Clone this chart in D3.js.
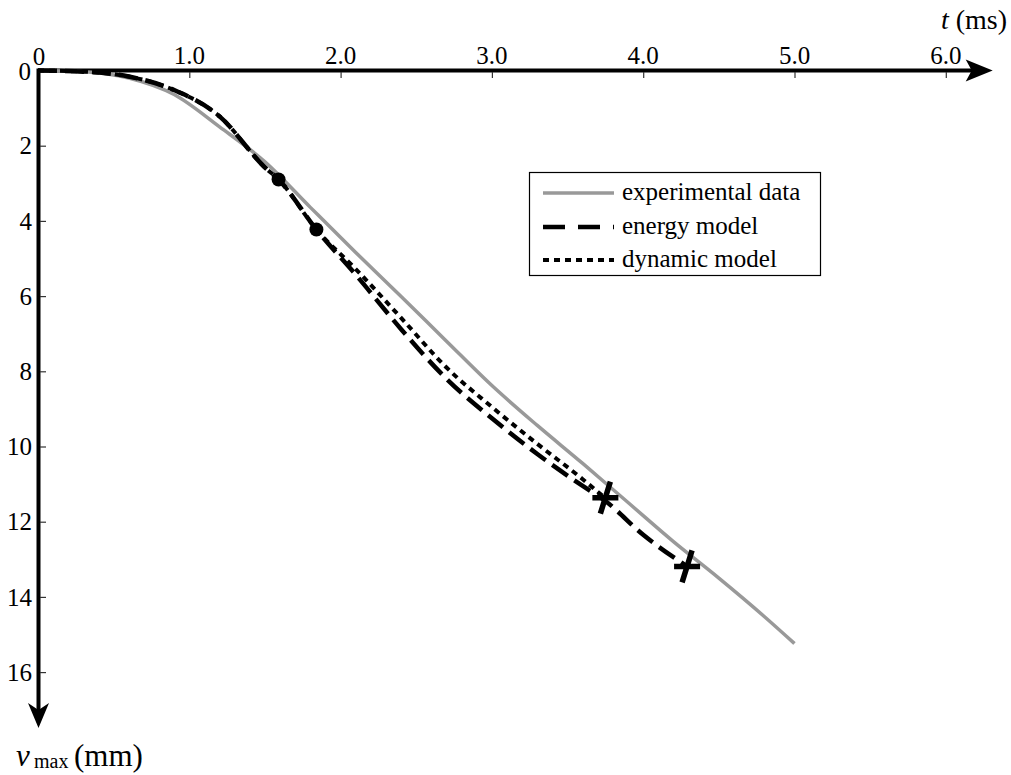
<!DOCTYPE html>
<html><head><meta charset="utf-8">
<script src="https://cdn.jsdelivr.net/npm/d3@7"></script>
<style>
html,body{margin:0;padding:0;background:#fff;}
</style></head>
<body>
<svg id="chart" width="1011" height="775" style="font-family:'Liberation Serif','Times New Roman',Tinos,'DejaVu Serif',serif;"></svg>
<script>
// ---- data ----
const xTickValues = [1, 2, 3, 4, 5, 6];
const xTickLabels = ["1.0", "2.0", "3.0", "4.0", "5.0", "6.0"];
const yTickValues = [2, 4, 6, 8, 10, 12, 14, 16];
const yTickLabels = ["2", "4", "6", "8", "10", "12", "14", "16"];

const expT = [0, 0.3, 0.6, 0.9, 1.2, 1.5, 1.8, 2.1, 2.4, 2.7, 3.0, 3.3, 3.6, 3.9, 4.2, 4.5, 4.8, 5.0];
const expV = [0, 0.03, 0.2, 0.64, 1.5, 2.43, 3.64, 4.84, 6.01, 7.2, 8.38, 9.44, 10.45, 11.49, 12.53, 13.5, 14.52, 15.24];

const energyT = [0, 0.3, 0.6, 0.9, 1.2, 1.5, 1.59, 1.84, 2.1, 2.4, 2.7, 3.0, 3.3, 3.6, 3.75, 4.0, 4.29];
const energyV = [0, 0.03, 0.16, 0.52, 1.22, 2.58, 2.9, 4.23, 5.43, 6.88, 8.2, 9.25, 10.2, 11.05, 11.45, 12.35, 13.19];

const dynT = [0, 0.3, 0.6, 0.9, 1.2, 1.5, 1.59, 1.84, 2.1, 2.4, 2.7, 3.0, 3.3, 3.6, 3.745];
const dynV = [0, 0.03, 0.16, 0.52, 1.22, 2.58, 2.9, 4.23, 5.28, 6.58, 7.9, 8.95, 9.93, 10.87, 11.36];

const circleT = [1.59, 1.84];
const circleV = [2.9, 4.23];
const crossT = [3.75, 4.29];
const crossV = [11.36, 13.19];

const legendLabels = ["experimental data", "energy model", "dynamic model"];
const axisMaxT = 6.31, axisMaxV = 17.49;

// ---- scales ----
const svg = d3.select("#chart");
const FONT = "'Liberation Serif','Times New Roman',Tinos,'DejaVu Serif',serif";
const x = d3.scaleLinear().domain([0, 6]).range([38, 38 + 151.3 * 6]);
const y = d3.scaleLinear().domain([0, 16]).range([70.5, 70.5 + 37.6 * 16]);

// ---- axes ----
const ax = svg.append("g");
ax.append("line").attr("x1", x(0)).attr("x2", x(axisMaxT) - 14).attr("y1", y(0)).attr("y2", y(0))
  .attr("stroke", "#000").attr("stroke-width", 4);
ax.append("line").attr("x1", x(0) + 0.5).attr("x2", x(0) + 0.5).attr("y1", y(0) - 2).attr("y2", y(axisMaxV) - 14)
  .attr("stroke", "#000").attr("stroke-width", 4);
const tx = x(axisMaxT), ty = y(0);
ax.append("path").attr("d", `M${tx},${ty} L${tx-27},${ty-11} L${tx-21},${ty} L${tx-27},${ty+11} Z`).attr("fill", "#000");
const vx = x(0) + 0.5, vy = y(axisMaxV);
ax.append("path").attr("d", `M${vx},${vy} L${vx-10.5},${vy-25} L${vx},${vy-18} L${vx+10.5},${vy-25} Z`).attr("fill", "#000");

// x ticks
const xAxis = d3.axisBottom(x).tickValues(xTickValues).tickSize(6).tickFormat("");
const gx = svg.append("g").attr("transform", `translate(0,${y(0) + 1.5})`).call(xAxis);
gx.select(".domain").remove();
gx.selectAll(".tick line").attr("stroke", "#333").attr("stroke-width", 1.2);
svg.append("g").selectAll("text").data(xTickValues).join("text")
  .attr("x", d => x(d)).attr("y", y(0) - 7).attr("text-anchor", "middle")
  .attr("font-family", FONT).attr("font-size", 25).text((d, i) => xTickLabels[i]);
svg.append("text").attr("x", x(0) + 1).attr("y", y(0) - 6).attr("text-anchor", "middle")
  .attr("font-family", FONT).attr("font-size", 25).text("0");

// y ticks
const yAxis = d3.axisRight(y).tickValues(yTickValues).tickSize(6).tickFormat("");
const gy = svg.append("g").attr("transform", `translate(${x(0) + 2},0)`).call(yAxis);
gy.select(".domain").remove();
gy.selectAll(".tick line").attr("stroke", "#333").attr("stroke-width", 1.2);
svg.append("g").selectAll("text").data(yTickValues).join("text")
  .attr("x", 32).attr("y", d => y(d)).attr("dy", "0.35em").attr("text-anchor", "end")
  .attr("font-family", FONT).attr("font-size", 25).text((d, i) => yTickLabels[i]);
svg.append("text").attr("x", 31).attr("y", y(0) + 9).attr("text-anchor", "end")
  .attr("font-family", FONT).attr("font-size", 25).text("0");

// axis titles
const tt = svg.append("text").attr("x", 1007).attr("y", 29).attr("text-anchor", "end")
  .attr("font-family", FONT).attr("font-size", 28);
tt.append("tspan").attr("font-style", "italic").text("t");
tt.append("tspan").text(" (ms)");
const vt = svg.append("text").attr("y", 766).attr("font-family", FONT).attr("font-size", 31);
vt.append("tspan").attr("x", 16).attr("font-style", "italic").text("v");
vt.append("tspan").attr("x", 34).attr("font-size", 20).attr("dy", 2).text("max");
vt.append("tspan").attr("x", 74).attr("dy", -2).text("(mm)");

// ---- lines ----
const line = d3.line().x(d => x(d[0])).y(d => y(d[1])).curve(d3.curveMonotoneX);
const expData = expT.map((t, i) => [t, expV[i]]);
const energyData = energyT.map((t, i) => [t, energyV[i]]);
const dynData = dynT.map((t, i) => [t, dynV[i]]);

svg.append("path").attr("d", line(expData)).attr("fill", "none").attr("stroke", "#999").attr("stroke-width", 3.5);
svg.append("path").attr("d", line(dynData)).attr("fill", "none").attr("stroke", "#000").attr("stroke-width", 4)
  .attr("stroke-dasharray", "6,5");
svg.append("path").attr("d", line(energyData)).attr("fill", "none").attr("stroke", "#000").attr("stroke-width", 4.5)
  .attr("stroke-dasharray", "19,8");

// markers
svg.append("g").selectAll("circle").data(circleT).join("circle")
  .attr("cx", d => x(d)).attr("cy", (d, i) => y(circleV[i])).attr("r", 7).attr("fill", "#000");
svg.append("g").selectAll("path").data(crossT).join("path")
  .attr("d", (d, i) => {
    const cx = x(d), cy = y(crossV[i]);
    return `M${cx-13},${cy} L${cx+13},${cy} M${cx+5},${cy-16} L${cx-5},${cy+16}`;
  })
  .attr("stroke", "#000").attr("stroke-width", 5.5).attr("fill", "none");

// ---- legend ----
const lg = svg.append("g");
lg.append("rect").attr("x", 529.5).attr("y", 172.5).attr("width", 291).attr("height", 103)
  .attr("fill", "#fff").attr("stroke", "#000").attr("stroke-width", 1.2);
const legendStyles = [
  {stroke: "#999", w: 3.5, dash: null},
  {stroke: "#000", w: 4.5, dash: "22,13"},
  {stroke: "#000", w: 4, dash: "6,5"}
];
const rowY = [193, 227, 260];
legendLabels.forEach((lab, i) => {
  const s = legendStyles[i];
  const l = lg.append("line").attr("x1", 543).attr("x2", 614).attr("y1", rowY[i]).attr("y2", rowY[i])
    .attr("stroke", s.stroke).attr("stroke-width", s.w);
  if (s.dash) l.attr("stroke-dasharray", s.dash);
  lg.append("text").attr("x", 622).attr("y", rowY[i] + 7).attr("font-family", FONT).attr("font-size", 25).text(lab);
});
</script>
</body></html>
